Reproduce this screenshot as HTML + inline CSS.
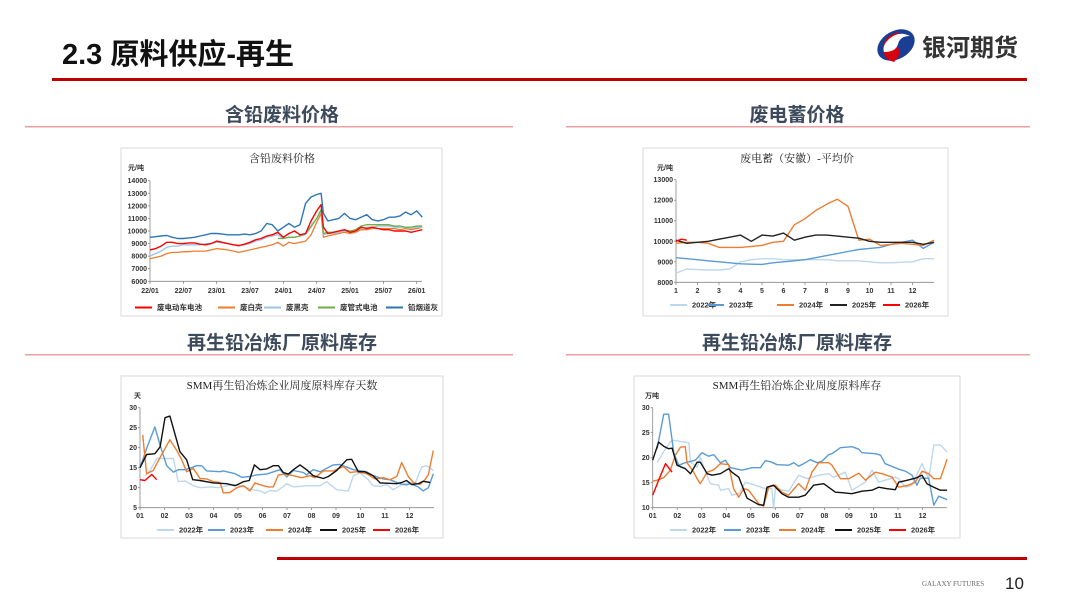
<!DOCTYPE html>
<html><head><meta charset="utf-8">
<style>
html,body{margin:0;padding:0;background:#fff;}
svg{display:block;font-family:"Liberation Sans","Noto Sans CJK SC",sans-serif;}
.tk{font-size:7px;fill:#333;font-weight:bold;}
.lg{font-size:7.5px;fill:#333;font-weight:bold;}
.ct{font-family:"Liberation Serif","Noto Serif CJK SC",serif;font-size:11px;fill:#222;}
</style></head><body>
<svg id="s" width="1080" height="608" viewBox="0 0 1080 608">
<text x="62" y="64" font-size="29" font-weight="bold" fill="#111">2.3  原料供应-再生</text>
<g>
<ellipse cx="896" cy="45" rx="20" ry="14" fill="#1a3e94" transform="rotate(-30 896 45)"/>
<path d="M884,54 Q880,36 900,32 Q888,40 896,46 Q904,52 894,62 Q886,60 884,54Z" fill="#d7000f"/>
<path d="M888,40 Q898,30 910,36 Q900,36 898,44 Q896,52 884,52 Q882,46 888,40Z" fill="#fff"/>
<text x="922" y="56" font-size="24" font-weight="bold" fill="#333">银河期货</text>
</g>
<rect x="52" y="78" width="975" height="3" fill="#c00000"/>
<text x="282" y="121" font-size="19" font-weight="bold" fill="#3c4a5c" text-anchor="middle">含铅废料价格</text>
<rect x="25" y="126" width="488" height="1.5" fill="#e8a0a0"/>
<text x="797" y="121" font-size="19" font-weight="bold" fill="#3c4a5c" text-anchor="middle">废电蓄价格</text>
<rect x="566" y="126" width="464" height="1.5" fill="#e8a0a0"/>
<text x="282" y="349" font-size="19" font-weight="bold" fill="#3c4a5c" text-anchor="middle">再生铅冶炼厂原料库存</text>
<rect x="25" y="354" width="488" height="1.5" fill="#e8a0a0"/>
<text x="797" y="349" font-size="19" font-weight="bold" fill="#3c4a5c" text-anchor="middle">再生铅冶炼厂原料库存</text>
<rect x="566" y="354" width="464" height="1.5" fill="#e8a0a0"/>
<rect x="277" y="557" width="750" height="3" fill="#c00000"/>
<text x="922" y="586" font-size="7" fill="#666" font-family="Liberation Serif,serif">GALAXY FUTURES</text>
<text x="1005" y="589" font-size="17" fill="#222">10</text>
</svg>
<script>
// ---------- Chart 1 data ----------
const c1Months=[0,1,2,3,4,5,6,7,8,9,10,11,12,13,14,15,16,17,18,19,20,21,22,23,24,25,26,27,28,29,30,30.8,31.2,32,33,34,35,36,37,38,39,40,41,42,43,44,45,46,47,48,49];
const c1Ticks=["22/01","22/07","23/01","23/07","24/01","24/07","25/01","25/07","26/01"];
const c1YTicks=[6000,7000,8000,9000,10000,11000,12000,13000,14000];
const c1Blue=[9500,9550,9600,9650,9500,9400,9400,9450,9500,9600,9700,9800,9800,9750,9700,9700,9700,9750,9700,9800,10000,10600,10500,10000,10300,10600,10300,10500,12200,12700,12900,13000,11400,10800,10900,11000,11400,11000,10900,11100,11300,10900,10800,10900,11100,11100,11200,11500,11300,11600,11100];
const c1Red=[8500,8600,8800,9100,9100,9000,9000,9050,9050,8950,8900,9000,9200,9100,9000,8900,8850,8950,9100,9300,9400,9600,9700,9900,9500,9800,10000,9700,9800,10800,11600,12100,10300,9800,9900,10000,10100,9900,10000,10300,10200,10300,10200,10100,10100,10000,10000,10000,9900,10000,10100];
const c1Orange=[7800,7900,8000,8200,8300,8300,8350,8350,8400,8400,8400,8500,8600,8550,8500,8400,8300,8400,8500,8600,8700,8800,8900,9100,8800,9100,9000,9100,9200,9700,10700,11400,9500,9600,9700,9800,9900,9800,9900,10100,10100,10200,10200,10200,10200,10200,10100,10200,10100,10200,10300];
const c1Light=[8000,8200,8400,8700,8800,8800,8900,8900,8900,8900,9000,9000,9100,9050,9000,8900,8800,8900,9000,9200,9300,9500,9600,9700,9400,9500,9500,9600,9700,10300,11000,11600,9700,9800,9800,9900,10000,9900,10000,10200,10300,10300,10400,10400,10400,10300,10300,10300,10200,10300,10300];
const c1Green=[null,null,null,null,null,null,null,null,null,null,null,null,null,null,null,null,null,null,null,null,null,null,null,9400,9400,9500,9500,9600,9800,10400,11000,11700,9800,9900,9900,10000,10100,10000,10100,10400,10500,10500,10500,10500,10500,10400,10400,10300,10300,10400,10400];
const c1Names=["废电动车电池","废白壳","废黑壳","废管式电池","铅烟道灰"];
// ---------- Chart 2 data ----------
const c2Months=[0,0.5,1,1.5,2,2.5,3,3.5,4,4.5,5,5.5,6,6.5,7,7.5,8,8.5,9,9.5,10,10.5,11,11.5,12];
const c2Y2022=[8450,8650,8620,8600,8600,8650,9000,9100,9150,9150,9100,9100,9100,9100,9100,9050,9050,9050,9000,8950,8950,8980,9000,9150,9150];
const c2Y2023=[9200,9150,9100,9050,9000,8950,8900,8880,8870,8950,9000,9050,9100,9200,9300,9400,9500,9600,9650,9700,9850,9950,10050,9650,9950];
const c2Y2024=[9900,9950,9950,9900,9700,9700,9700,9750,9800,9950,10000,10800,11100,11500,11800,12050,11700,10050,10100,9800,9850,9900,9850,9800,10050];
const c2Y2025=[10050,9900,9950,10000,10100,10200,10300,10000,10300,10250,10400,10050,10200,10300,10300,10250,10200,10150,10000,9950,9950,9950,9950,9850,9950];
const c2M2026=[0,0.25,0.5];
const c2Y2026=[10000,10100,10050];
const c2YTicks=[8000,9000,10000,11000,12000,13000];
const c2XTicks=["1","2","3","4","5","6","7","8","9","10","11","12"];
// ---------- Chart 3 data ----------
const c3M2022=[0.2,0.41,0.68,1.36,1.56,1.84,2.18,2.45,2.86,3.2,3.4,3.81,4.08,4.63,4.9,5.1,5.31,5.58,5.78,5.99,6.26,6.8,7.35,7.62,7.82,8.03,8.5,8.71,8.98,9.32,9.52,9.8,10.07,10.34,10.61,10.95,11.22,11.5,11.7,11.97];
const c3V2022=[13,14.3,17.3,17.3,11.5,11.7,10.5,10,10.2,10,10.3,10.8,10.5,9.5,9.2,8.6,9.3,9.1,10,11,10.2,10.5,10.5,11.5,10.5,9.5,9.2,13,13.7,12,10.5,10.3,10.8,9.5,10.5,11.3,11,15.2,15.5,14.3];
const c3M2023=[0,0.27,0.61,0.82,1.09,1.36,1.56,1.84,2.11,2.31,2.52,2.72,3.27,3.4,3.88,4.15,4.49,4.76,5.17,5.71,5.99,6.26,6.67,6.8,7.07,7.35,7.89,8.16,8.71,9.25,9.52,9.93,10.2,10.61,10.88,11.02,11.36,11.56,11.77,11.97];
const c3V2023=[15,19.8,25.2,20.6,15.5,13.9,14.5,14.5,15,15.5,15.5,14.2,14,14.2,13.5,12.6,12.8,13.2,13.4,14.5,12.7,14.3,13.8,13.2,14.5,14,15.7,15.8,14.5,14,13,12.2,12,11,10.7,11,10.2,9.2,10,13.5];
const c3M2024=[0.11,0.27,0.54,0.68,0.95,1.22,1.5,1.7,1.9,2.18,2.45,2.72,2.99,3.27,3.4,3.67,3.95,4.22,4.49,4.69,5.03,5.24,5.44,5.65,5.92,6.26,6.6,6.94,7.14,7.48,7.89,8.3,8.57,8.84,9.25,9.59,9.93,10.2,10.48,10.68,10.95,11.16,11.43,11.63,11.77,11.97];
const c3V2024=[23.2,13.5,14.3,16,19,22,19.3,17,14,14.8,12.3,12.2,11.5,11.3,8.7,8.8,10,10.5,9.2,11.2,10.5,10.2,10.2,13.2,13.4,13,12.5,13,12.5,14.2,14.2,15.3,13.8,14,13.5,12.2,12.5,12,12.8,16.3,12.8,11.3,10.8,12,13.3,19.3];
const c3M2025=[0,0.27,0.61,0.82,1.02,1.22,1.63,1.9,2.15,2.45,2.99,3.54,3.88,4.22,4.46,4.67,4.9,5.17,5.44,5.65,5.85,6.05,6.26,6.53,6.8,7.07,7.48,7.69,8.03,8.44,8.64,8.91,9.18,9.52,9.8,10.48,10.68,10.88,11.09,11.36,11.56,11.84];
const c3V2025=[15,18.3,18.5,20.2,27.5,27.9,19,17,12,11.8,11.2,11,10.5,11.5,11.8,15.7,14.5,14.7,15.5,15.5,13.8,13.4,14.5,15.7,14.5,13,12.3,12.8,14.3,17,17.1,14,14,13,11.2,11,11.3,11.8,10.8,11,11.6,11.3];
const c3M2026=[0,0.2,0.48,0.68];
const c3V2026=[12,11.8,13.3,12];
const c3YTicks=[5,10,15,20,25,30];
const c3XTicks=["01","02","03","04","05","06","07","08","09","10","11","12"];
// ---------- Chart 4 data ----------
const c4M2022=[0.18,0.52,0.79,1.33,1.47,1.54,1.81,1.94,2.08,2.35,2.69,2.76,3.1,3.23,3.51,3.78,4.18,4.59,4.86,4.93,5.0,5.54,5.95,6.29,6.77,7.17,7.38,7.85,8.12,8.67,8.94,9.21,9.89,10.03,10.3,10.57,10.98,11.25,11.46,11.73,12.0];
const c4V2022=[19,21.8,23.5,23.1,23,19.1,18.1,20.1,18.1,14.8,14.5,13.5,13.8,12.5,12.8,15.1,14.5,13.8,13.8,9.8,13.8,13.3,16.5,15.8,16.5,16.8,16.1,17.1,13.5,15.1,17.5,15.1,16.1,15.8,14.1,14.5,18.8,15.8,22.5,22.6,21.1];
const c4M2023=[0.18,0.45,0.65,0.86,1.06,1.33,1.74,2.01,2.28,2.49,2.76,2.96,3.17,3.64,4.05,4.39,4.59,4.8,5.07,5.54,5.75,5.95,6.22,6.43,6.7,6.9,7.17,7.31,7.65,8.12,8.4,8.53,9.08,9.29,9.48,10.03,10.3,10.57,10.77,10.91,11.25,11.46,11.66,12.0];
const c4V2023=[21.8,28.7,28.7,21,18.5,19,19.5,21,20.3,20.6,19,19.5,18,17.5,18,18,19.4,19.2,18.6,18.5,19,18.3,19,19.6,19,19.3,20.6,20.8,22,22.2,21.7,21,20.8,20.5,18.8,17.7,17.3,16.5,14.5,15.9,15.9,10.5,12.3,11.6];
const c4M2024=[0,0.18,0.45,0.72,0.92,1.13,1.33,1.4,1.67,1.81,1.94,2.22,2.49,2.76,3.1,3.3,3.51,3.71,3.91,4.32,4.52,4.73,5.0,5.27,5.54,5.82,5.95,6.22,6.49,6.77,7.17,7.31,7.65,7.99,8.4,8.67,9.08,9.35,9.76,10.03,10.43,10.71,10.98,11.25,11.46,11.73,12.0];
const c4V2024=[15.3,15.5,16,17.5,20.5,22.1,22.2,19,17.1,15.8,14.8,17.1,17.6,18.8,18.6,13.8,12.1,13.8,13.5,10.8,10.3,14.1,14.5,13.1,12.5,14.1,14.8,13.5,17.1,19,19,18.5,15.8,15.8,16.9,15.5,17.1,16.8,16.1,14.1,14.5,15.1,17.3,16.8,15.8,15.8,19.7];
const c4M2025=[0,0.24,0.45,0.65,0.79,0.99,1.33,1.54,1.81,1.94,2.22,2.42,2.76,3.1,3.23,3.51,3.85,4.32,4.52,4.66,4.93,5.27,5.54,5.95,6.22,6.56,6.97,7.45,7.72,8.12,8.53,8.94,9.21,9.55,9.89,10.03,10.3,10.71,10.98,11.18,11.46,11.73,12.0];
const c4V2025=[19.5,23.1,22.3,21.8,21.9,18.5,17.8,16.8,19.1,19.1,16.8,16.5,16.8,17.8,17.1,16.1,11.9,10.6,10.5,14.1,14.5,12.8,12.1,12.1,12.5,14.5,14.8,13.1,13,12.8,13.3,13.5,14.1,13.8,13.6,15.1,15.4,15.9,16.5,14.8,14.1,13.5,13.5];
const c4M2026=[0,0.24,0.52,0.79];
const c4V2026=[12.5,15.5,18.8,17.1];
const c4YTicks=[10,15,20,25,30];
const yearNames=["2022年","2023年","2024年","2025年","2026年"];
const yearColors=["#bdd7ee","#5b9bd5","#ed7d31","#111111","#ff0000"];

const NS="http://www.w3.org/2000/svg";
const svg=document.getElementById('s');
function el(tag,attrs,parent){const e=document.createElementNS(NS,tag);for(const k in attrs)e.setAttribute(k,attrs[k]);(parent||svg).appendChild(e);return e;}
function txt(x,y,s,cls,anchor,parent){const t=el('text',{x:x,y:y,class:cls,'text-anchor':anchor||'start'},parent);t.textContent=s;return t;}
function lin(d0,d1,r0,r1){return v=>r0+(v-d0)/(d1-d0)*(r1-r0);}
function frame(x,y,w,h,name){const g=el('g',{});
 const r=el('rect',{x:x,y:y,width:w,height:h,fill:'#fff',stroke:'#d9d9d9','stroke-width':1},g);
 return g;}
function series(g,xs,ys,sx,sy,color,w,name){let d='',pen=false;
 for(let i=0;i<xs.length;i++){if(ys[i]==null){pen=false;continue;}d+=(pen?'L':'M')+sx(xs[i]).toFixed(1)+','+sy(ys[i]).toFixed(1);pen=true;}
 const p=el('path',{d:d,fill:'none',stroke:color,'stroke-width':w,'stroke-linejoin':'round'},g);
 return p;}
function yaxis(g,x,ticks,sy,fmt){const a=el('line',{x1:x,x2:x,y1:sy(ticks[ticks.length-1]),y2:sy(ticks[0]),stroke:'#888','stroke-width':0.8},g);
 
 ticks.forEach(t=>{el('line',{x1:x-2,x2:x,y1:sy(t),y2:sy(t),stroke:'#888','stroke-width':0.8},g);
 const l=txt(x-3,sy(t)+2.5,fmt?fmt(t):String(t),'tk','end',g);});}
function legend(g,items,y){items.forEach(it=>{const ln=el('line',{x1:it.x,x2:it.x+17,y1:y,y2:y,stroke:it.c,'stroke-width':2},g);
 
 const t=txt(it.x+22,y+2.6,it.n,'lg','start',g);});}

// Chart 1
(function(){const g=frame(121,148,321,168,'chart-scrap-lead-price');
 const sx=lin(0,48,150,416.7),sy=lin(6000,14000,281.3,180.7);
 const t=txt(282,162,'含铅废料价格','ct','middle',g);
 const u=txt(128,170,'元/吨','tk','start',g);
 yaxis(g,150,c1YTicks,sy);
 const xa=el('line',{x1:150,x2:422,y1:281.3,y2:281.3,stroke:'#888','stroke-width':0.8},g);
 c1Ticks.forEach((s,i)=>{const x=sx(i*6);el('line',{x1:x,x2:x,y1:281.3,y2:284,stroke:'#888','stroke-width':0.8},g);
  const l=txt(x,293,s,'tk','middle',g);});
 series(g,c1Months,c1Orange,sx,sy,'#ed7d31',1.3,'line-white-shell');
 series(g,c1Months,c1Light,sx,sy,'#9dc3e6',1.3,'line-black-shell');
 series(g,c1Months,c1Green,sx,sy,'#70ad47',1.3,'line-tubular-battery');
 series(g,c1Months,c1Red,sx,sy,'#ff0000',1.4,'line-ev-battery');
 series(g,c1Months,c1Blue,sx,sy,'#2e75b6',1.4,'line-lead-ash');
 legend(g,[{x:135,c:'#ff0000',n:c1Names[0]},{x:218,c:'#ed7d31',n:c1Names[1]},{x:264,c:'#9dc3e6',n:c1Names[2]},{x:318,c:'#70ad47',n:c1Names[3]},{x:386,c:'#2e75b6',n:c1Names[4]}],307.5);
})();
// Chart 2
(function(){const g=frame(643,148,305,168,'chart-battery-price');
 const sx=lin(0,12,676,934),sy=lin(8000,13000,282.3,179.7);
 const t=txt(797,162,'废电蓄（安徽）-平均价','ct','middle',g);
 const u=txt(657,170,'元/吨','tk','start',g);
 yaxis(g,676,c2YTicks,sy);
 const xa=el('line',{x1:676,x2:934,y1:282.3,y2:282.3,stroke:'#888','stroke-width':0.8},g);
 c2XTicks.forEach((s,i)=>{const x=sx(i);el('line',{x1:x,x2:x,y1:282.3,y2:285,stroke:'#888','stroke-width':0.8},g);
  const l=txt(x,293,s,'tk','middle',g);});
 series(g,c2Months,c2Y2022,sx,sy,yearColors[0],1.4,'line-2022');
 series(g,c2Months,c2Y2023,sx,sy,yearColors[1],1.4,'line-2023');
 series(g,c2Months,c2Y2024,sx,sy,yearColors[2],1.4,'line-2024');
 series(g,c2Months,c2Y2025,sx,sy,'#222',1.4,'line-2025');
 series(g,c2M2026,c2Y2026,sx,sy,yearColors[4],1.4,'line-2026');
 legend(g,[670,707,777,830,883].map((x,i)=>({x:x,c:i==3?'#222':yearColors[i],n:yearNames[i]})),305);
})();
// Charts 3 & 4
function seasonal(cfg){const g=frame(cfg.fx,376,cfg.fw,162,cfg.name);
 const sx=lin(0,12,cfg.x0,cfg.x0+12*cfg.mw),sy=lin(cfg.ymin,cfg.ymax,507.7,407.7);
 const t=txt(cfg.tx,389,cfg.title,'ct','middle',g);
 const u=txt(cfg.ux,398,cfg.unit,'tk','start',g);
 yaxis(g,cfg.x0,cfg.yticks,sy);
 const xa=el('line',{x1:cfg.x0,x2:sx(12),y1:507.7,y2:507.7,stroke:'#888','stroke-width':0.8},g);
 c3XTicks.forEach((s,i)=>{const x=sx(i);el('line',{x1:x,x2:x,y1:507.7,y2:510,stroke:'#888','stroke-width':0.8},g);
  const l=txt(x,518,s,'tk','middle',g);});
 const cols=[yearColors[0],yearColors[1],yearColors[2],'#111',yearColors[4]];
 cfg.data.forEach((d,i)=>series(g,d[0],d[1],sx,sy,cols[i],1.4,'line-'+(2022+i)));
 legend(g,cfg.leg.map((x,i)=>({x:x,c:cols[i],n:yearNames[i]})),530);}
seasonal({fx:121,fw:322,name:'chart-inventory-days',x0:140,mw:24.5,ymin:5,ymax:30,yticks:c3YTicks,tx:282,title:'SMM再生铅冶炼企业周度原料库存天数',ux:134,unit:'天',
 data:[[c3M2022,c3V2022],[c3M2023,c3V2023],[c3M2024,c3V2024],[c3M2025,c3V2025],[c3M2026,c3V2026]],leg:[157,208,266,320,373]});
seasonal({fx:634,fw:326,name:'chart-inventory-tonnes',x0:652.7,mw:24.53,ymin:10,ymax:30,yticks:c4YTicks,tx:797,title:'SMM再生铅冶炼企业周度原料库存',ux:645,unit:'万吨',
 data:[[c4M2022,c4V2022],[c4M2023,c4V2023],[c4M2024,c4V2024],[c4M2025,c4V2025],[c4M2026,c4V2026]],leg:[670,724,779,835,889]});
</script>
</body></html>
